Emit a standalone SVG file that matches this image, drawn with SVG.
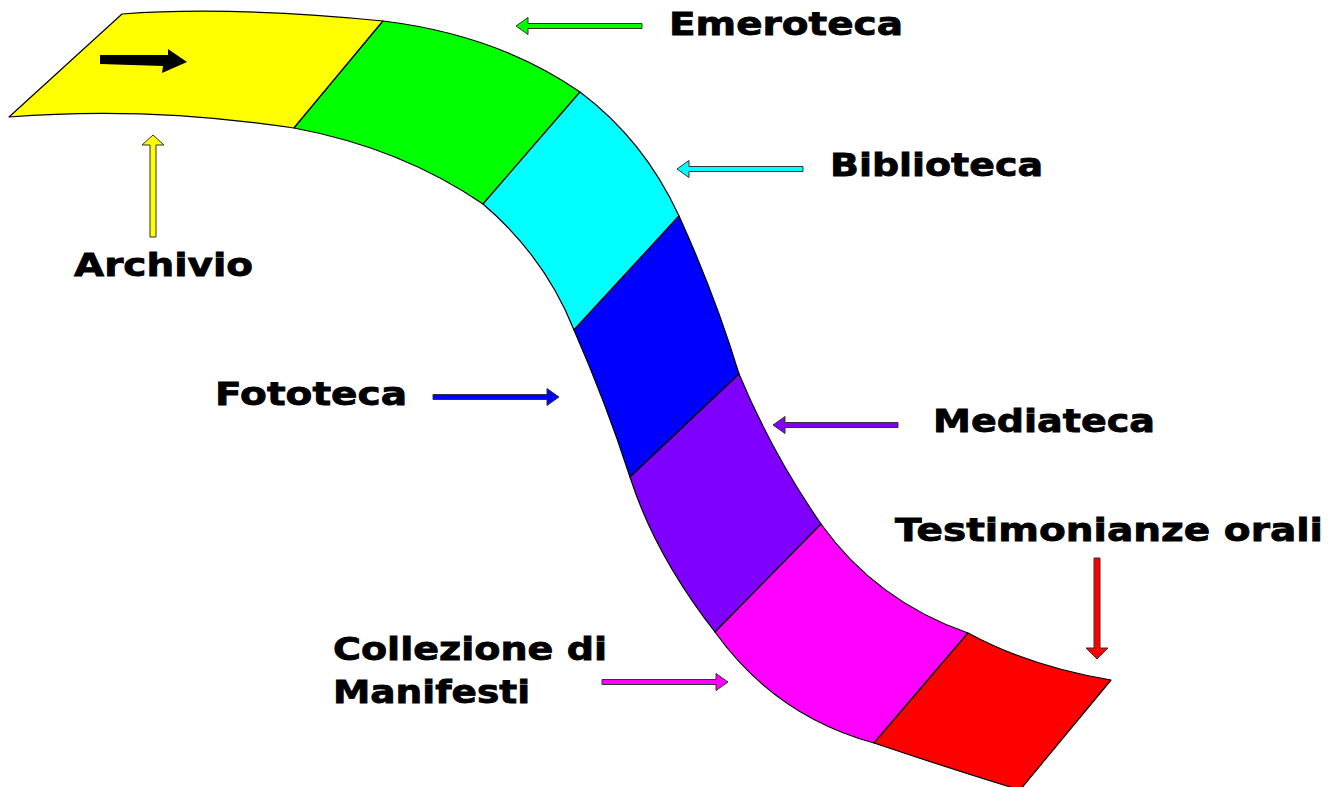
<svg xmlns="http://www.w3.org/2000/svg" width="1344" height="787" viewBox="0 0 1344 787">
<style>
.seg{stroke:#000;stroke-width:1.2;stroke-linejoin:round}
.arr{stroke:#333;stroke-width:1;stroke-linejoin:miter}
.lbl{font-family:"DejaVu Sans","Liberation Sans",sans-serif;font-weight:bold;font-size:32px;fill:#000;stroke:#000;stroke-width:0.8}
</style>
<rect width="1344" height="787" fill="#fff"/>
<g id="ribbon">
<g id="seg-archivio"><path class="seg" fill="#FFFF00" d="M122,14 Q230,6 383,21 L294,128 Q148,106 9,117 Z"/>
<polygon fill="#000" points="100,55 168,55 168,49 187,62 162,73 163,66 100,64"/></g>
<g id="seg-emeroteca"><path class="seg" fill="#00FF00" d="M383,21 Q498,35 580,92 L483,204 Q401,148 294,128 Z"/></g>
<g id="seg-biblioteca"><path class="seg" fill="#00FFFF" d="M580,92 Q644,140 679,216 L574,330 Q545,257 483,204 Z"/></g>
<g id="seg-fototeca"><path class="seg" fill="#0000FF" d="M679,216 Q715,295 739,374 L630,477 Q606,403 574,330 Z"/></g>
<g id="seg-mediateca"><path class="seg" fill="#8000FF" d="M739,374 Q772,453 821,524 L715,632 Q655,555 630,477 Z"/></g>
<g id="seg-manifesti"><path class="seg" fill="#FF00FF" d="M821,524 Q876,601 968,633 L874,743 Q775,716 715,632 Z"/></g>
<g id="seg-testimonianze"><path class="seg" fill="#FF0000" d="M968,633 Q1031,667 1111,680 L1020,790 Q948,768 874,743 Z"/></g>
</g>
<g id="connectors">
<polygon class="arr" fill="#00FF00" points="516,26 528,17.5 528,23.5 642,23.5 642,28.5 528,28.5 528,34.5"/>
<polygon class="arr" fill="#00FFFF" points="677,169 689,160.5 689,166.5 803,166.5 803,171.5 689,171.5 689,177.5"/>
<polygon class="arr" fill="#8000FF" points="773,425 785,416.5 785,422.5 898,422.5 898,427.5 785,427.5 785,433.5"/>
<polygon class="arr" fill="#0000FF" points="559,397 547,388.5 547,394.5 433,394.5 433,399.5 547,399.5 547,405.5"/>
<polygon class="arr" fill="#FF00FF" points="728,682 716,673.5 716,679.5 602,679.5 602,684.5 716,684.5 716,690.5"/>
<polygon class="arr" fill="#FFFF00" points="153,135 164,145 156,145 156,237 150,237 150,145 142,145"/>
<polygon class="arr" fill="#FF0000" points="1097,659 1108,648 1100,648 1100,558 1094,558 1094,648 1086,648"/>
</g>
<g id="labels">
<g id="lbl-emeroteca"><text class="lbl" x="669" y="35" textLength="234" lengthAdjust="spacingAndGlyphs">Emeroteca</text></g>
<g id="lbl-biblioteca"><text class="lbl" x="830" y="176" textLength="213" lengthAdjust="spacingAndGlyphs">Biblioteca</text></g>
<g id="lbl-archivio"><text class="lbl" x="74" y="276" textLength="179" lengthAdjust="spacingAndGlyphs">Archivio</text></g>
<g id="lbl-fototeca"><text class="lbl" x="215" y="405" textLength="192" lengthAdjust="spacingAndGlyphs">Fototeca</text></g>
<g id="lbl-mediateca"><text class="lbl" x="933" y="432" textLength="222" lengthAdjust="spacingAndGlyphs">Mediateca</text></g>
<g id="lbl-testimonianze"><text class="lbl" x="895" y="541" textLength="428" lengthAdjust="spacingAndGlyphs">Testimonianze orali</text></g>
<g id="lbl-manifesti"><text class="lbl" x="333" y="660" textLength="274" lengthAdjust="spacingAndGlyphs">Collezione di</text>
<text class="lbl" x="333" y="703" textLength="197" lengthAdjust="spacingAndGlyphs">Manifesti</text></g>
</g>
</svg>
